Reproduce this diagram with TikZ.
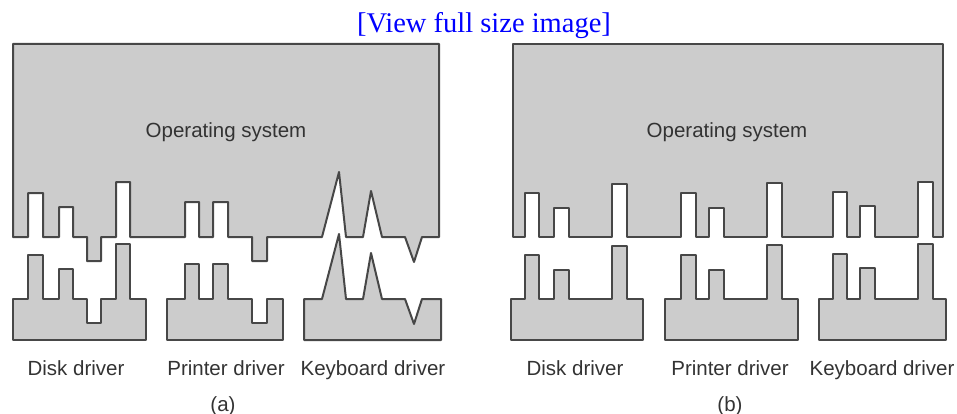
\documentclass[tikz,border=0pt]{standalone}
\usepackage{fontspec}
\setmainfont{Liberation Sans}
\newfontfamily\titlefont{Liberation Serif}
\begin{document}
\begin{tikzpicture}[x=1pt,y=-1pt,
  part/.style={fill=black!20,draw=black!72,line width=2pt,line join=round},
  lbl/.style={font=\fontsize{20.5}{24}\selectfont,text=black!80,inner sep=0pt,anchor=base},
  ttl/.style={font=\titlefont\fontsize{28.5}{32}\selectfont,text=blue,inner sep=0pt,anchor=base}]
\useasboundingbox (0,0) rectangle (957,414);
% ---------- (a) ----------
\draw[part] (13,44) -- (439,44) -- (439,237) -- (422,237) -- (414,262) -- (405,237)
  -- (382,237) -- (371,191) -- (363,237) -- (346,237) -- (339,172) -- (322,237)
  -- (267,237) -- (267,261) -- (252,261) -- (252,237) -- (228,237) -- (228,202)
  -- (213,202) -- (213,237) -- (199,237) -- (199,202) -- (185,202) -- (185,237)
  -- (130,237) -- (130,182) -- (116,182) -- (116,237) -- (101,237) -- (101,261)
  -- (87,261) -- (87,237) -- (73,237) -- (73,207) -- (59,207) -- (59,237)
  -- (43,237) -- (43,193) -- (28,193) -- (28,237) -- (13,237) -- cycle;
\draw[part] (13,340) -- (13,299) -- (28,299) -- (28,255) -- (43,255) -- (43,299)
  -- (59,299) -- (59,269) -- (73,269) -- (73,299) -- (87,299) -- (87,323)
  -- (101,323) -- (101,299) -- (116,299) -- (116,244) -- (130,244) -- (130,299)
  -- (146,299) -- (146,340) -- cycle;
\draw[part] (167,340) -- (167,299) -- (185,299) -- (185,264) -- (199,264) -- (199,299)
  -- (213,299) -- (213,264) -- (228,264) -- (228,299) -- (252,299) -- (252,323)
  -- (267,323) -- (267,299) -- (283,299) -- (283,340) -- cycle;
\draw[part] (304,340) -- (304,299) -- (322,299) -- (339,234) -- (346,299) -- (363,299)
  -- (371,253) -- (382,299) -- (405,299) -- (414,324) -- (422,299) -- (441,299)
  -- (441,340) -- cycle;
% ---------- (b) ----------
\draw[part] (513,44) -- (943,44) -- (943,237) -- (933,237) -- (933,182) -- (918,182)
  -- (918,237) -- (875,237) -- (875,206) -- (860,206) -- (860,237) -- (847,237)
  -- (847,192) -- (833,192) -- (833,237) -- (782,237) -- (782,183) -- (767,183)
  -- (767,237) -- (724,237) -- (724,208) -- (709,208) -- (709,237) -- (696,237)
  -- (696,193) -- (681,193) -- (681,237) -- (627,237) -- (627,184) -- (612,184)
  -- (612,237) -- (569,237) -- (569,208) -- (554,208) -- (554,237) -- (539,237)
  -- (539,193) -- (525,193) -- (525,237) -- (513,237) -- cycle;
\draw[part] (511,340) -- (511,299) -- (525,299) -- (525,255) -- (539,255) -- (539,299)
  -- (554,299) -- (554,270) -- (569,270) -- (569,299) -- (612,299) -- (612,246)
  -- (627,246) -- (627,299) -- (643,299) -- (643,340) -- cycle;
\draw[part] (665,340) -- (665,299) -- (681,299) -- (681,255) -- (696,255) -- (696,299)
  -- (709,299) -- (709,270) -- (724,270) -- (724,299) -- (767,299) -- (767,245)
  -- (782,245) -- (782,299) -- (798,299) -- (798,340) -- cycle;
\draw[part] (819,340) -- (819,299) -- (833,299) -- (833,254) -- (847,254) -- (847,299)
  -- (860,299) -- (860,268) -- (875,268) -- (875,299) -- (918,299) -- (918,244)
  -- (933,244) -- (933,299) -- (946,299) -- (946,340) -- cycle;
% ---------- texts ----------
\node[ttl] (title) at (484,33) {[View full size image]};
\node[lbl] (osa) at (226,138) {Operating system};
\node[lbl] (osb) at (727,138) {Operating system};
\node[lbl] (da) at (76,375) {Disk driver};
\node[lbl] (pa) at (226,375) {Printer driver};
\node[lbl] (ka) at (373,375) {Keyboard driver};
\node[lbl] (db) at (575,375) {Disk driver};
\node[lbl] (pb) at (730,375) {Printer driver};
\node[lbl] (kb) at (882,375) {Keyboard driver};
\node[lbl] (capa) at (223,411) {(a)};
\node[lbl] (capb) at (730,411) {(b)};
\end{tikzpicture}
\end{document}
